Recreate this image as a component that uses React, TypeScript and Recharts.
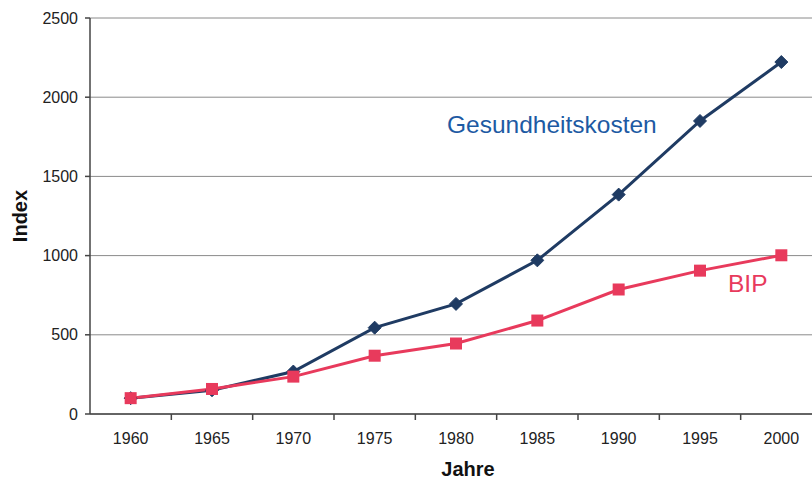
import { CartesianGrid, Line, LineChart, XAxis, YAxis } from 'recharts';

const YEARS = ['1960', '1965', '1970', '1975', '1980', '1985', '1990', '1995', '2000'];
const GESUNDHEIT = [100, 150, 268, 545, 695, 970, 1385, 1850, 2222];
const BIP = [100, 158, 236, 368, 445, 590, 786, 905, 1002];
const Y_TICKS = [0, 500, 1000, 1500, 2000, 2500];

const data = YEARS.map((year, i) => ({ year, gesundheit: GESUNDHEIT[i], bip: BIP[i] }));

const NAVY = '#1f3b63';
const RED = '#e83a5c';
const FONT = 'Liberation Sans, Arial, sans-serif';

const CHART_W = 830;
const MARGIN_R = 8;
const AXIS_W = 90;
const BAND = (CHART_W - MARGIN_R - AXIS_W) / YEARS.length;

function Diamond(props: any) {
  const { cx, cy } = props;
  if (cx == null || cy == null) return null;
  const s = 6.5;
  return (
    <path
      d={`M${cx},${cy - s} L${cx + s},${cy} L${cx},${cy + s} L${cx - s},${cy} Z`}
      fill={NAVY}
      stroke={NAVY}
      strokeWidth={1}
    />
  );
}

function Square(props: any) {
  const { cx, cy } = props;
  if (cx == null || cy == null) return null;
  const s = 6;
  return <rect x={cx - s} y={cy - s} width={s * 2} height={s * 2} fill={RED} />;
}

// Excel-style: tick marks between categories, labels centred
function YearTick(props: any) {
  const { x, payload } = props;
  const top = 414;
  return (
    <g>
      <line x1={x + BAND / 2} x2={x + BAND / 2} y1={top} y2={top + 6} stroke="#444" strokeWidth={1.5} />
      <text x={x} y={top + 30} textAnchor="middle" fill="#222" fontSize={16} fontFamily={FONT}>
        {payload.value}
      </text>
    </g>
  );
}

export default function App() {
  return (
    <div
      style={{
        position: 'absolute',
        left: 0,
        top: 0,
        width: 812,
        height: 480,
        overflow: 'hidden',
        background: '#fff',
        fontFamily: FONT,
      }}
    >
      <LineChart width={CHART_W} height={480} data={data} margin={{ top: 18, right: MARGIN_R, bottom: 0, left: 0 }}>
        <CartesianGrid vertical={false} stroke="#8a8a8a" strokeWidth={1} />
        <XAxis
          dataKey="year"
          scale="band"
          height={66}
          tickLine={false}
          stroke="#444"
          strokeWidth={1.5}
          tick={<YearTick />}
          interval={0}
          label={{
            value: 'Jahre',
            position: 'insideBottom',
            offset: 4,
            dx: 12,
            fill: '#111',
            fontSize: 20,
            fontWeight: 'bold',
            fontFamily: FONT,
          }}
        />
        <YAxis
          width={AXIS_W}
          domain={[0, 2500]}
          ticks={Y_TICKS}
          tickSize={5}
          tickMargin={7}
          stroke="#444"
          strokeWidth={1.5}
          tick={{ fill: '#222', fontSize: 16, fontFamily: FONT }}
          label={{
            content: () => (
              <text
                x={0}
                y={0}
                transform="translate(27,216) rotate(-90)"
                textAnchor="middle"
                fill="#111"
                fontSize={20}
                fontWeight="bold"
                fontFamily={FONT}
              >
                Index
              </text>
            ),
          }}
        />
        <Line
          dataKey="gesundheit"
          stroke={NAVY}
          strokeWidth={3}
          dot={<Diamond />}
          activeDot={false}
          isAnimationActive={false}
        />
        <Line
          dataKey="bip"
          stroke={RED}
          strokeWidth={3}
          dot={<Square />}
          activeDot={false}
          isAnimationActive={false}
        />
      </LineChart>
      <div
        style={{
          position: 'absolute',
          left: 447,
          top: 111,
          color: '#1d5aa3',
          fontSize: 24.5,
          lineHeight: '28px',
          whiteSpace: 'nowrap',
        }}
      >
        Gesundheitskosten
      </div>
      <div
        style={{
          position: 'absolute',
          left: 728,
          top: 270,
          color: RED,
          fontSize: 24.5,
          lineHeight: '28px',
        }}
      >
        BIP
      </div>
    </div>
  );
}
